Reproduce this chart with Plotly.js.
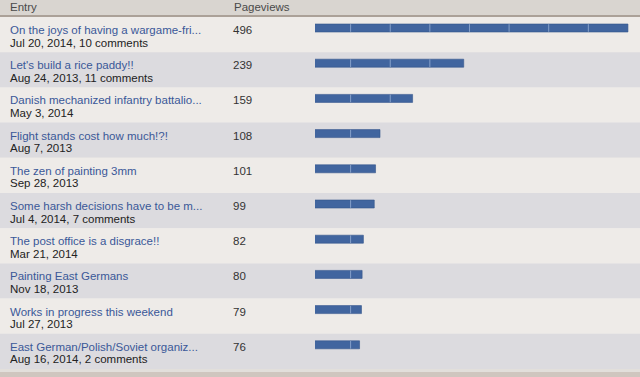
<!DOCTYPE html>
<html>
<head>
<meta charset="utf-8">
<script src="https://cdn.plot.ly/plotly-3.0.1.min.js"></script>
<style>html,body{margin:0;padding:0;background:#eeebe8;}#chart{width:640px;height:377px;}</style>
</head>
<body>
<div id="chart"></div>
<script>
const titles = [
  "On the joys of having a wargame-fri...",
  "Let's build a rice paddy!!",
  "Danish mechanized infantry battalio...",
  "Flight stands cost how much!?!",
  "The zen of painting 3mm",
  "Some harsh decisions have to be m...",
  "The post office is a disgrace!!",
  "Painting East Germans",
  "Works in progress this weekend",
  "East German/Polish/Soviet organiz..."
];
const dates = [
  "Jul 20, 2014, 10 comments",
  "Aug 24, 2013, 11 comments",
  "May 3, 2014",
  "Aug 7, 2013",
  "Sep 28, 2013",
  "Jul 4, 2014, 7 comments",
  "Mar 21, 2014",
  "Nov 18, 2013",
  "Jul 27, 2013",
  "Aug 16, 2014, 2 comments"
];
const pageviews = [496, 239, 159, 108, 101, 99, 82, 80, 79, 76];
const headers = ["Entry", "Pageviews"];

const W = 640, H = 377;
const rowTop = 17, rowH = 35.2;
const n = pageviews.length;
const rowIdx = pageviews.map((_, i) => i);
// y data mapping: row i spans [i-0.5, i+0.5]
const pToY = p => (p - rowTop) / rowH - 0.5;
const FONT = '"Liberation Sans", Arial, sans-serif';
const FS = 11.5;

const barOffset = (24 - rowTop) / rowH - 0.5;
const barWidth = 8 / rowH;

const trace = {
  type: 'bar',
  orientation: 'h',
  x: pageviews,
  y: rowIdx,
  base: 0,
  offset: barOffset,
  width: barWidth,
  marker: {color: '#41659f', line: {color: '#34558c', width: 0.6}},
  hoverinfo: 'skip'
};

const shapes = [];
// header
shapes.push({type:'rect', xref:'paper', yref:'paper', x0:0, x1:1, y0:1-15/H, y1:1, fillcolor:'#d9d5d0', line:{width:0}, layer:'below'});
shapes.push({type:'rect', xref:'paper', yref:'paper', x0:0, x1:1, y0:1-17/H, y1:1-15/H, fillcolor:'#aba198', line:{width:0}, layer:'below'});
// rows
for (let i = 0; i < n; i++) {
  shapes.push({type:'rect', xref:'paper', yref:'y', x0:0, x1:1, y0:i-0.5, y1:i+0.5,
    fillcolor: i % 2 === 0 ? '#eeebe8' : '#dcdbdf', line:{width:0}, layer:'below'});
}
// bottom border
const rowsEnd = rowTop + n * rowH;
shapes.push({type:'rect', xref:'paper', yref:'paper', x0:0, x1:1, y0:1-(rowsEnd+3)/H, y1:1-rowsEnd/H, fillcolor:'#e2dfdb', line:{width:0}, layer:'below'});
shapes.push({type:'rect', xref:'paper', yref:'paper', x0:0, x1:1, y0:0, y1:1-(rowsEnd+3)/H, fillcolor:'#cfc6bf', line:{width:0}, layer:'below'});
// segment lines inside bars (every 1/8 of the max)
const step = Math.max(...pageviews) / 8;
for (let i = 0; i < n; i++) {
  for (let k = 1; k * step < pageviews[i] - 1; k++) {
    shapes.push({type:'line', xref:'x', yref:'y', x0:k*step, x1:k*step,
      y0: i + barOffset + 0.005, y1: i + barOffset + barWidth - 0.005,
      line:{color:'rgba(150,175,212,0.8)', width:1}, layer:'above'});
  }
}

const annotations = [];
annotations.push({xref:'paper', yref:'paper', x:8/W, y:1-7/H, xanchor:'left', yanchor:'middle', text:headers[0], showarrow:false, font:{family:FONT, size:FS, color:'#4a4a4a'}});
annotations.push({xref:'paper', yref:'paper', x:232/W, y:1-7/H, xanchor:'left', yanchor:'middle', text:headers[1], showarrow:false, font:{family:FONT, size:FS, color:'#4a4a4a'}});
for (let i = 0; i < n; i++) {
  annotations.push({xref:'paper', yref:'y', x:8/W, y:i + 13/rowH - 0.5, xanchor:'left', yanchor:'middle',
    text:titles[i], showarrow:false, font:{family:FONT, size:FS, color:'#3a5898'}});
  annotations.push({xref:'paper', yref:'y', x:8/W, y:i + 25.5/rowH - 0.5, xanchor:'left', yanchor:'middle',
    text:dates[i], showarrow:false, font:{family:FONT, size:FS, color:'#222222'}});
  annotations.push({xref:'paper', yref:'y', x:231/W, y:i + 13/rowH - 0.5, xanchor:'left', yanchor:'middle',
    text:String(pageviews[i]), showarrow:false, font:{family:FONT, size:FS, color:'#333333'}});
}

// x scale: 0 at px 311, 0.639 px per view; plot area starts at px 315
const pxPer = 0.639, zeroPx = 311, startPx = 315;
const xr0 = (startPx - zeroPx) / pxPer;
const xr1 = xr0 + (W - startPx) / pxPer;

const layout = {
  width: W, height: H,
  margin: {l:0, r:0, t:0, b:0, pad:0},
  paper_bgcolor: '#eeebe8',
  plot_bgcolor: 'rgba(0,0,0,0)',
  showlegend: false,
  xaxis: {domain:[startPx/W, 1], range:[xr0, xr1], showgrid:false, zeroline:false, showticklabels:false, ticks:'', fixedrange:true},
  yaxis: {domain:[0,1], range:[pToY(H), pToY(0)], showgrid:false, zeroline:false, showticklabels:false, ticks:'', fixedrange:true},
  shapes: shapes,
  annotations: annotations,
  font: {family: FONT, size: FS}
};

Plotly.newPlot('chart', [trace], layout, {staticPlot:true, displayModeBar:false});
</script>
</body>
</html>
